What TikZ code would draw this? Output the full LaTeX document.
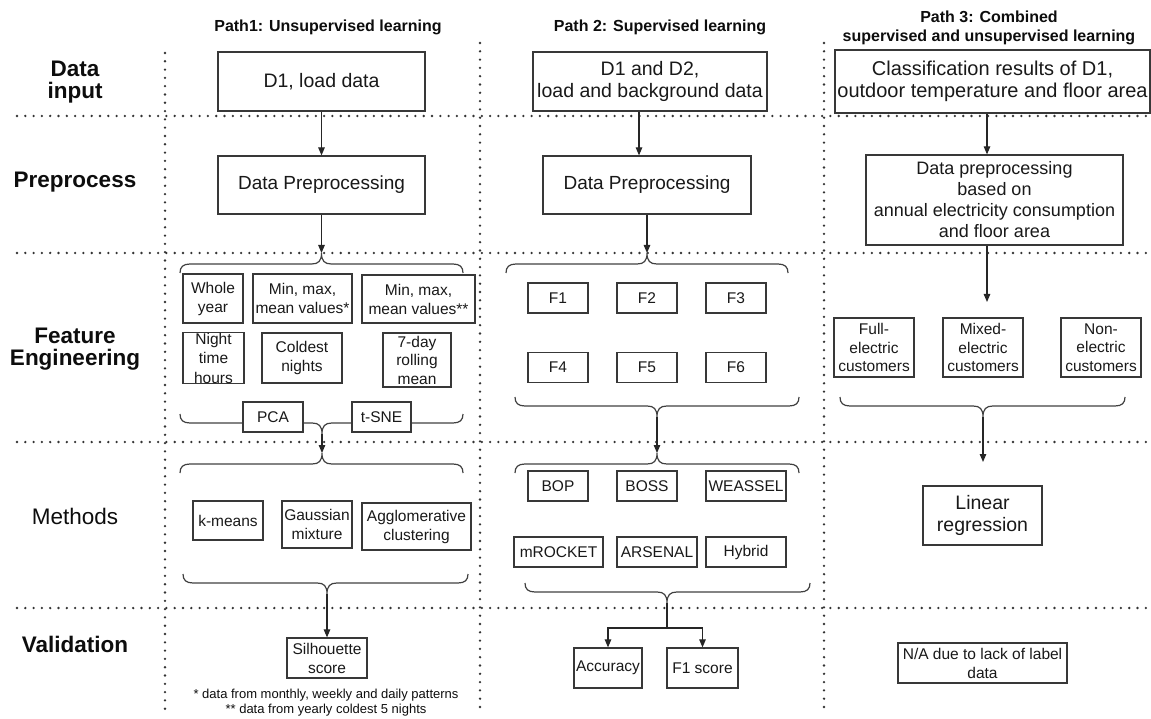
\documentclass[tikz,border=0pt]{standalone}
\usepackage{fontspec}
\setmainfont{Liberation Sans}
\usetikzlibrary{arrows.meta}
\newcommand{\mybraceup}[4]{%
 \draw[brc] (#1,#4) .. controls (#1,{#4-6}) and ({#1+3},{#4-9}) .. ({#1+10},{#4-9})
   -- ({#2-10},{#4-9}) .. controls ({#2-3},{#4-9}) and (#2,{#4-12}) .. (#2,{#4-20})
   .. controls (#2,{#4-12}) and ({#2+3},{#4-9}) .. ({#2+10},{#4-9})
   -- ({#3-10},{#4-9}) .. controls ({#3-3},{#4-9}) and (#3,{#4-6}) .. (#3,#4);}
\newcommand{\mybracedn}[4]{%
 \draw[brc] (#1,#4) .. controls (#1,{#4+6}) and ({#1+3},{#4+9}) .. ({#1+10},{#4+9})
   -- ({#2-10},{#4+9}) .. controls ({#2-3},{#4+9}) and (#2,{#4+12}) .. (#2,{#4+20})
   .. controls (#2,{#4+12}) and ({#2+3},{#4+9}) .. ({#2+10},{#4+9})
   -- ({#3-10},{#4+9}) .. controls ({#3-3},{#4+9}) and (#3,{#4+6}) .. (#3,#4);}
\begin{document}
\begin{tikzpicture}[x=1pt,y=-1pt,
  box/.style={draw=black!78, line width=1.2pt, fill=white, align=center, inner sep=0pt, text=black!90},
  big/.style={font=\fontsize{19.5}{22}\selectfont},
  small/.style={font=\fontsize{15.5}{19}\selectfont},
  rowlab/.style={font=\fontsize{22.5}{22}\selectfont\bfseries, align=center, text=black!95},
  hdr/.style={font=\fontsize{16}{19}\selectfont\bfseries, align=center, text=black!95},
  note/.style={font=\fontsize{13}{15}\selectfont, text=black!95},
  dotline/.style={black!80, line width=2.6pt, line cap=round, dash pattern=on 0pt off 8.3pt},
  arr/.style={-{Triangle[width=6.5pt,length=8pt]}, black!85, line width=1.1pt},
  brc/.style={black!75, line width=1.2pt}]
\useasboundingbox (0,0) rectangle (1151,719);
% grid of dotted lines
\draw[dotline] (17,116) -- (1148,116);
\draw[dotline] (17,253) -- (1148,253);
\draw[dotline] (17,442) -- (1148,442);
\draw[dotline] (17,608) -- (1148,608);
\draw[dotline] (165,53) -- (165,710);
\draw[dotline] (480,43) -- (480,707);
\draw[dotline] (824,43) -- (824,707);
% row labels
\node[rowlab] (r1) at (75,82) {Data\\input};
\node[rowlab] (r2) at (75,182) {Preprocess};
\node[rowlab] (r3) at (75,349) {Feature\\Engineering};
\node[rowlab, font=\fontsize{22.5}{22}\selectfont] (r4) at (75,516) {Methods};
\node[rowlab] (r5) at (75,644) {Validation};
% headers
\node[hdr] (h1) at (328,27) {Path1: Unsupervised learning};
\node[hdr] (h2) at (660,27) {Path 2: Supervised learning};
\node[hdr] (h3) at (989,28) {Path 3: Combined\\supervised and unsupervised learning};
% braces
\mybraceup{180}{321.5}{463}{273}
\mybracedn{180}{322}{463}{414}
\mybraceup{180}{322}{463}{473}
\mybracedn{183}{327}{468}{574}
\mybraceup{506}{647}{788}{273}
\mybracedn{515}{657}{799}{397}
\mybraceup{515}{657}{799}{473}
\mybracedn{525}{667}{810}{583}
\mybracedn{840}{983}{1125}{397}
\coordinate (t1) at (321.5,253);
\coordinate (t2) at (322,434);
\coordinate (t3) at (322,453);
\coordinate (t4) at (327,594);
\coordinate (t5) at (647,253);
\coordinate (t6) at (657,417);
\coordinate (t7) at (657,453);
\coordinate (t8) at (667,603);
\coordinate (t9) at (983,417);
\coordinate (e1) at (987,302);
\coordinate (e2) at (983,462);
\coordinate (sp) at (667,628);
\coordinate (x2) at (639,0);
% path 1
\node[box,big,minimum width=207pt,minimum height=59pt] (d1) at (321.5,81.5) {D1, load data};
\node[box,font=\fontsize{19}{22}\selectfont,minimum width=207pt,minimum height=58pt] (pp1) at (321.5,185) {Data Preprocessing};
\node[box,small,minimum width=60pt,minimum height=49pt] (whole) at (213,298.5) {Whole\\year};
\node[box,small,minimum width=99pt,minimum height=49pt] (mm1) at (302.5,298.5) {Min, max,\\mean values*};
\node[box,small,minimum width=113pt,minimum height=48pt] (mm2) at (418.5,299) {Min, max,\\mean values**};
\node[box,font=\fontsize{15.5}{19.5}\selectfont,minimum width=61pt,minimum height=50pt] (night) at (213.5,358) {Night\\time\\hours};
\node[box,small,minimum width=80pt,minimum height=50pt] (cold) at (302,358) {Coldest\\nights};
\node[box,font=\fontsize{15.5}{18.5}\selectfont,minimum width=68pt,minimum height=54pt] (roll) at (417,360) {7-day\\rolling\\mean};
\node[box,small,minimum width=60pt,minimum height=30pt] (pca) at (273,417) {PCA};
\node[box,small,minimum width=59pt,minimum height=30pt] (tsne) at (381.5,417) {t-SNE};
\node[box,small,minimum width=70pt,minimum height=39pt] (km) at (228,520.5) {k-means};
\node[box,small,minimum width=70pt,minimum height=47pt] (gmm) at (317,524.5) {Gaussian\\mixture};
\node[box,small,minimum width=109pt,minimum height=47pt] (agg) at (416.5,526.5) {Agglomerative\\clustering};
\node[box,small,minimum width=80pt,minimum height=40pt] (sil) at (327,658) {Silhouette\\score};
\node[note] (n1) at (326,695) {* data from monthly, weekly and daily patterns};
\node[note] (n2) at (326,710) {** data from yearly coldest 5 nights};
% path 2
\node[box,big,minimum width=234pt,minimum height=59pt] (d12) at (650,81.5) {D1 and D2,\\load and background data};
\node[box,font=\fontsize{19}{22}\selectfont,minimum width=208pt,minimum height=58pt] (pp2) at (647,185) {Data Preprocessing};
\node[box,small,minimum width=60pt,minimum height=30pt] (f1) at (558,298) {F1};
\node[box,small,minimum width=60pt,minimum height=30pt] (f2) at (647,298) {F2};
\node[box,small,minimum width=60pt,minimum height=30pt] (f3) at (736,298) {F3};
\node[box,small,minimum width=60pt,minimum height=30pt] (f4) at (558,367.5) {F4};
\node[box,small,minimum width=60pt,minimum height=30pt] (f5) at (647,367.5) {F5};
\node[box,small,minimum width=60pt,minimum height=30pt] (f6) at (736,367.5) {F6};
\node[box,small,minimum width=60pt,minimum height=30pt] (bop) at (558,486) {BOP};
\node[box,small,minimum width=60pt,minimum height=30pt] (boss) at (647,486) {BOSS};
\node[box,small,minimum width=80pt,minimum height=30pt] (weas) at (746,486) {WEASSEL};
\node[box,small,minimum width=89pt,minimum height=30pt] (mroc) at (558.5,552) {mROCKET};
\node[box,small,minimum width=80pt,minimum height=30pt] (ars) at (657,552) {ARSENAL};
\node[box,small,minimum width=80pt,minimum height=30pt] (hyb) at (746,552) {Hybrid};
\node[box,small,minimum width=68pt,minimum height=40pt] (acc) at (608,668) {Accuracy};
\node[box,small,minimum width=71pt,minimum height=40pt] (f1s) at (702.5,668) {F1 score};
% path 3
\node[box,font=\fontsize{20}{22}\selectfont,minimum width=315pt,minimum height=63pt] (cls) at (992.5,81.5) {Classification results of D1,\\outdoor temperature and floor area};
\node[box,font=\fontsize{18}{21}\selectfont,minimum width=257pt,minimum height=90pt] (pp3) at (994.5,200) {Data preprocessing\\based on\\annual electricity consumption\\and floor area};
\node[box,font=\fontsize{15.5}{18.5}\selectfont,minimum width=80pt,minimum height=59pt] (full) at (874,347.5) {Full-\\electric\\customers};
\node[box,font=\fontsize{15.5}{18.5}\selectfont,minimum width=80pt,minimum height=59pt] (mixed) at (983,347.5) {Mixed-\\electric\\customers};
\node[box,font=\fontsize{15.5}{18.5}\selectfont,minimum width=80pt,minimum height=59pt] (non) at (1101,347.5) {Non-\\electric\\customers};
\node[box,font=\fontsize{19.5}{22}\selectfont,minimum width=119pt,minimum height=59pt] (lin) at (982.5,515.5) {Linear\\regression};
\node[box,small,minimum width=169pt,minimum height=40pt] (na) at (982.5,663) {N/A due to lack of label\\data};
% arrows
\draw[arr] (d1.south) -- (pp1.north);
\draw[arr] (pp1.south) -- (t1);
\draw[arr] (t2) -- (t3);
\draw[arr] (t4) -- (sil.north);
\draw[arr] (d12.south -| x2) -- (pp2.north -| x2);
\draw[arr] (pp2.south) -- (t5);
\draw[arr] (t6) -- (t7);
\draw[black!85, line width=1.1pt] (t8) -- (sp);
\draw[arr] (sp) -| (acc.north);
\draw[arr] (sp) -| (f1s.north);
\draw[arr] (cls.south -| e1) -- (pp3.north -| e1);
\draw[arr] (pp3.south -| e1) -- (e1);
\draw[arr] (t9) -- (e2);
\end{tikzpicture}
\end{document}
